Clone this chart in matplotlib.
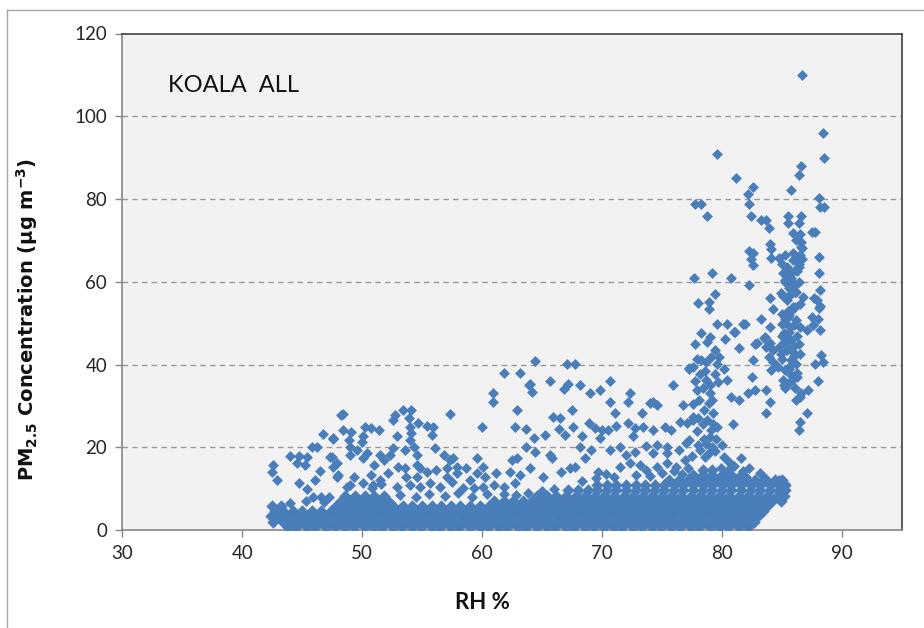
import matplotlib
matplotlib.use("Agg")
import matplotlib.pyplot as plt
from matplotlib.lines import Line2D

plt.rcParams["font.family"] = ["Lato", "DejaVu Sans"]

# ---- humid tail: high PM2.5 at RH > 76 % ----
rh_tail = [86.7, 88.4, 88.5, 79.6, 81.2, 82.6, 82.2, 82.3, 82.4, 86.6, 86.4, 85.75, 88.1, 88.2, 88.5,
           77.8, 78.3, 78.8, 83.3, 83.7, 83.9, 85.5, 86.6, 85.5, 86.4, 85.9, 87.5, 87.8, 84.0, 84.1,
           86.2, 86.6, 86.7, 82.3, 82.6, 82.4, 82.6, 84.1, 84.8, 85.0, 85.9, 86.3, 86.7, 86.4, 88.1,
           88.1, 77.7, 79.2, 80.8, 82.3, 85.1, 85.4, 85.8, 85.3, 85.9, 86.4, 88.2, 79.4, 78.0, 78.9,
           84.0, 84.9, 85.4, 86.8, 87.7, 88.2, 78.9, 79.6, 79.0, 80.4, 80.3, 81.0, 81.9, 81.4, 82.8,
           83.5, 84.0, 84.3, 83.3, 84.0, 83.6, 87.9, 88.1, 88.0, 88.2, 87.5, 87.6, 87.1, 88.3, 88.4,
           87.75, 88.0, 87.2, 87.1, 86.5, 86.4, 85.25, 85.5, 85.8, 86.1, 86.4, 86.5, 86.6, 86.2, 85.8,
           85.4, 85.9, 86.5, 85.0, 85.5, 86.2, 85.0, 85.7, 86.5, 85.25, 85.8, 84.8, 85.4, 85.9, 86.5,
           85.0, 85.8, 86.2, 85.25, 85.8, 85.1, 85.7, 85.25, 86.1, 86.6, 86.5, 86.2, 84.3, 83.9, 83.7,
           84.3, 84.1, 83.7, 84.0, 83.7, 82.9, 82.6, 82.5, 82.2, 82.75, 81.8, 81.1, 80.9, 81.4, 80.8,
           80.4, 80.2, 79.8, 79.6, 79.1, 78.7, 78.3, 77.9, 77.6, 77.3, 78.2, 78.7, 79.4, 79.7, 77.9,
           78.4, 79.0, 78.9, 79.3, 79.3, 79.1, 79.0, 78.7, 79.6, 77.75, 77.3, 77.6, 86.0, 85.6, 86.3,
           85.2, 86.0, 85.6, 86.3, 85.9, 85.5, 86.1, 85.3,
           85.2, 85.6, 86.0, 85.3, 85.7, 86.1, 85.1, 85.6, 86.0, 85.4, 85.9, 86.3, 85.0, 84.7, 85.2,
           85.6, 86.0, 86.4, 86.3, 84.9, 85.5, 86.2, 85.3, 86.5,
           77.6, 78.1, 78.5, 78.0, 78.4, 78.8, 77.9, 78.5, 78.0, 79.2, 78.9, 77.5, 77.0, 79.5, 79.0,
           78.6, 77.8, 79.2, 78.8, 78.3, 79.4]
pm_tail = [110.0, 96.0, 90.0, 90.8, 85.1, 82.9, 81.1, 78.9, 75.8, 88.0, 85.9, 82.1, 80.2, 78.1, 78.0,
           78.9, 78.7, 75.9, 75.0, 74.9, 72.9, 75.9, 76.0, 74.1, 74.1, 71.8, 72.1, 72.0, 69.2, 67.9,
           70.0, 69.6, 68.2, 67.4, 67.0, 65.4, 64.0, 65.8, 65.7, 64.4, 65.2, 66.0, 65.4, 63.6, 65.9,
           62.0, 61.0, 62.2, 61.0, 59.1, 62.0, 61.2, 62.0, 60.0, 59.7, 60.0, 58.0, 57.0, 54.9, 55.0,
           56.0, 57.2, 56.2, 56.2, 56.0, 54.1, 53.3, 49.9, 46.7, 49.9, 46.1, 47.9, 49.8, 44.0, 44.9,
           46.5, 45.1, 53.3, 51.1, 49.1, 46.7, 55.6, 53.6, 51.1, 48.3, 51.5, 49.5, 48.3, 42.3, 40.7,
           40.1, 36.1, 33.8, 28.2, 26.2, 24.2, 60.4, 62.0, 60.8, 62.8, 64.4, 66.4, 68.4, 65.2, 57.1,
           55.5, 53.9, 54.7, 52.3, 51.5, 50.7, 49.9, 49.1, 49.1, 46.7, 45.9, 44.3, 43.5, 43.0, 42.6,
           41.4, 41.0, 40.2, 38.6, 37.4, 36.2, 35.8, 34.2, 34.2, 33.0, 32.2, 31.4, 40.6, 41.8, 44.3,
           43.5, 38.6, 33.8, 31.0, 28.2, 45.1, 41.0, 37.0, 33.0, 33.8, 49.9, 47.9, 25.7, 31.4, 32.2,
           36.2, 39.0, 41.8, 40.2, 41.8, 40.6, 41.0, 41.4, 39.4, 39.0, 37.8, 36.2, 37.8, 35.8, 33.8,
           34.2, 33.0, 30.6, 28.2, 25.7, 24.1, 22.5, 20.9, 24.9, 44.9, 39.1, 27.3, 58.0, 52.0, 47.0,
           47.5, 44.5, 39.0, 38.0, 36.5, 53.0, 57.5, 50.0,
           45.5, 47.8, 49.5, 51.0, 52.8, 54.0, 56.5, 58.5, 59.0, 63.5, 67.0, 62.5, 47.0, 39.5, 35.0,
           39.5, 42.0, 45.0, 37.0, 42.5, 44.0, 57.5, 66.5, 71.5,
           30.5, 31.5, 29.0, 27.0, 25.5, 26.5, 24.0, 22.0, 20.5, 20.0, 18.5, 18.0, 21.0, 22.0, 35.0,
           38.5, 36.0, 31.5, 45.5, 47.5, 43.5]

# ---- scattered moderate values, RH 42-84 % ----
rh_mid = [46.7, 47.55, 48.2, 45.8, 46.2, 44.0, 44.7, 45.4, 44.6, 45.25, 47.3, 42.6, 42.5, 42.9, 46.5,
          44.7, 45.4, 46.1, 47.6, 47.9, 45.9, 46.6, 47.2,
          61.8, 63.2, 60.9, 60.9, 63.9, 62.9, 62.75, 48.4, 57.3, 60.0, 52.75, 53.4, 54.1, 52.6, 53.9,
          54.0, 54.1, 54.7, 48.4, 49.1, 48.9, 50.25, 50.7, 50.1, 50.0, 51.4, 47.6, 55.4, 55.9, 55.8,
          52.9, 54.0, 54.3, 49.0, 49.55, 52.6, 52.3, 53.6, 54.6, 56.1, 47.5, 47.9, 49.0, 50.1, 50.4,
          51.5, 51.8, 51.0, 56.8, 57.3, 57.6, 59.6, 60.1, 62.5, 62.9, 54.6, 54.8, 53.0, 53.6, 55.4,
          56.2, 57.05, 57.9, 58.7, 48.0, 49.3, 50.7, 51.5, 52.2, 53.7, 54.6, 57.05, 57.5, 57.9, 59.0,
          59.55, 60.25, 61.2, 62.3, 63.2, 48.7, 50.1, 50.9, 52.9, 54.0, 54.8, 55.7, 56.5, 58.4, 59.3,
          60.1, 61.0, 61.8, 62.75, 53.2, 54.5, 55.6, 56.9, 58.0, 59.2, 60.4,
          64.4, 67.06, 67.75, 65.7, 64.0, 64.15, 66.8, 67.2, 68.2, 69.0, 69.8, 70.7, 72.3, 72.2, 70.7,
          74.3, 74.6, 75.9, 76.8, 67.5, 65.9, 66.5, 71.1, 73.3, 63.7, 64.3, 65.25, 66.4, 66.9, 67.6,
          68.9, 69.4, 70.0, 70.5, 71.2, 72.2, 72.75, 72.6, 73.4, 74.3, 75.25, 75.8, 76.5, 77.06, 77.6,
          69.8, 68.3, 63.7, 64.4, 65.7, 65.8, 68.2, 69.1, 70.7, 71.5, 72.0, 72.75, 73.7, 74.6, 75.4,
          68.6, 64.0, 65.1, 66.6, 67.3, 67.75, 69.7, 71.5, 72.3, 73.2, 73.7, 74.6, 75.4, 76.2, 76.9,
          74.0, 77.3, 76.4, 75.4, 74.3, 78.2, 78.6, 80.2, 81.6, 83.2, 83.6, 84.8, 85.25, 80.5, 81.0,
          81.8, 82.3, 80.0, 80.6, 79.4, 79.9, 82.0,
          70.3, 71.0, 72.8, 74.0, 75.0, 76.0, 76.7, 77.2, 69.5, 68.3, 66.0, 65.0, 63.8, 62.8, 61.8,
          49.0, 50.8, 51.6, 44.0, 45.3, 46.8]
pm_mid = [23.1, 22.0, 27.8, 19.95, 19.95, 17.9, 17.9, 17.7, 16.1, 15.7, 17.7, 15.7, 14.1, 12.1, 14.3,
          11.3, 10.0, 12.1, 15.3, 12.9, 8.0, 8.0, 7.9,
          38.0, 38.0, 33.0, 31.0, 35.0, 29.0, 25.0, 28.0, 28.0, 25.0, 27.8, 29.0, 29.0, 26.6, 27.0,
          25.0, 23.4, 25.8, 24.2, 23.8, 21.7, 25.0, 24.6, 22.6, 21.3, 24.2, 22.2, 25.1, 24.8, 23.0,
          22.6, 21.7, 20.1, 20.1, 19.3, 19.7, 18.1, 19.3, 18.1, 19.7, 17.7, 16.1, 18.1, 17.3, 18.5,
          18.1, 16.9, 15.7, 18.1, 16.9, 17.3, 17.3, 15.3, 16.9, 17.3, 15.7, 14.9, 15.3, 14.9, 14.1,
          14.5, 14.9, 15.3, 14.9, 13.3, 12.9, 13.3, 12.1, 13.7, 12.9, 12.9, 12.9, 11.7, 13.7, 12.1,
          13.7, 12.9, 13.7, 14.1, 13.3, 10.5, 11.3, 10.9, 10.5, 10.9, 10.5, 11.3, 10.5, 10.1, 10.1,
          10.5, 10.9, 10.5, 11.3, 8.5, 8.0, 8.8, 8.2, 8.9, 7.9, 8.6,
          40.9, 40.1, 40.1, 36.1, 35.3, 33.4, 34.0, 35.4, 35.0, 33.0, 33.8, 36.1, 33.2, 31.0, 31.0,
          31.0, 30.2, 35.0, 30.2, 29.0, 27.2, 27.0, 28.2, 28.2, 24.3, 22.2, 23.0, 24.3, 23.0, 25.0,
          25.8, 24.6, 24.2, 24.2, 25.1, 25.9, 24.6, 22.6, 24.8, 24.2, 24.8, 24.2, 26.2, 25.8, 26.6,
          22.2, 22.6, 20.1, 18.9, 18.1, 17.3, 20.1, 19.3, 19.3, 20.1, 18.1, 18.9, 20.3, 20.5, 18.5,
          17.3, 15.1, 12.9, 14.1, 14.9, 15.3, 14.1, 15.3, 16.1, 15.7, 14.5, 15.3, 16.1, 15.3, 16.9,
          30.6, 21.7, 19.3, 20.1, 18.5, 19.3, 17.7, 17.7, 17.3, 13.7, 12.5, 12.1, 11.2, 14.5, 15.5,
          14.2, 15.0, 20.5, 16.5, 19.0, 15.0, 12.9,
          13.5, 12.9, 13.2, 13.0, 13.8, 14.2, 13.5, 15.0, 12.5, 11.8, 10.0, 9.5, 9.0, 8.5, 8.8,
          10.8, 10.2, 11.0, 6.6, 7.0, 6.8]

# ---- dense low-concentration band, one list of RH readings per PM2.5 level ----
band_pm = [0.8, 2.05, 3.3, 4.55, 5.8, 7.05, 8.3, 9.55, 10.8, 12.05, 13.3, 14.55]
band_rh = [
    [43.8, 44.5, 45.4, 46.1, 47.0, 47.7, 48.6, 49.3, 50.2, 51.0, 51.7, 52.6, 53.3, 54.2, 54.9, 55.8,
     56.5, 57.4, 58.1, 59.0, 59.8, 60.5, 61.4, 62.1, 63.0, 63.7, 64.6, 65.4, 66.1, 67.0, 67.7, 68.6,
     69.3, 70.2, 71.0, 71.7, 72.6, 73.3, 74.2, 74.9, 75.8, 76.5, 77.4, 78.1, 79.0, 79.8, 80.5, 81.4,
     82.2],
    [42.6, 43.4, 44.1, 45.0, 45.8, 46.6, 47.3, 48.2, 49.0, 49.8, 50.6, 51.3, 52.2, 52.9, 53.8, 54.6,
     55.3, 56.2, 57.0, 57.7, 58.6, 59.4, 60.2, 60.9, 61.8, 62.5, 63.4, 64.2, 65.0, 65.7, 66.6, 67.4,
     68.1, 69.0, 69.8, 70.5, 71.4, 72.2, 72.9, 73.8, 74.6, 75.4, 76.1, 77.0, 77.8, 78.5, 79.4, 80.2,
     80.9, 81.8, 82.7],
    [42.4, 43.0, 43.8, 44.6, 45.4, 46.2, 47.0, 47.8, 48.6, 49.4, 50.2, 51.0, 51.8, 52.6, 53.4, 54.2,
     55.0, 55.8, 56.6, 57.4, 58.2, 59.0, 59.8, 60.6, 61.4, 62.2, 63.0, 63.8, 64.6, 65.4, 66.2, 67.0,
     67.8, 68.6, 69.4, 70.2, 71.0, 71.8, 72.6, 73.4, 74.2, 75.0, 75.8, 76.6, 77.4, 78.2, 79.0, 79.8,
     80.6, 81.4, 82.2, 83.0],
    [42.7, 43.4, 44.2, 45.0, 45.8, 46.6, 47.4, 48.2, 49.0, 49.8, 50.6, 51.4, 52.2, 53.0, 53.8, 54.6,
     55.4, 56.2, 57.0, 57.8, 58.6, 59.4, 60.2, 61.0, 61.8, 62.6, 63.4, 64.2, 65.0, 65.8, 66.6, 67.4,
     68.2, 69.0, 69.8, 70.6, 71.4, 72.2, 73.0, 73.8, 74.6, 75.4, 76.2, 77.0, 77.8, 78.6, 79.4, 80.2,
     81.0, 81.8, 82.6, 83.4],
    [42.5, 43.2, 47.8, 48.6, 49.4, 50.2, 51.0, 51.8, 52.6, 53.4, 54.2, 55.0, 55.8, 56.6, 57.4, 58.2,
     59.0, 59.8, 60.6, 61.4, 62.2, 63.0, 63.8, 64.6, 65.4, 66.2, 67.0, 67.8, 68.6, 69.4, 70.2, 71.0,
     71.8, 72.6, 73.4, 74.2, 75.0, 75.8, 76.6, 77.4, 78.2, 79.0, 79.8, 80.6, 81.4, 82.2, 83.0, 83.8],
    [48.2, 49.0, 49.8, 50.6, 51.4, 52.2, 61.0, 61.8, 62.6, 63.4, 64.2, 65.0, 65.8, 66.6, 67.4, 68.2,
     69.0, 69.8, 70.6, 71.4, 72.2, 73.0, 73.8, 74.6, 75.4, 76.2, 77.0, 77.8, 78.6, 79.4, 80.2, 81.0,
     81.8, 82.6, 83.4, 84.2, 84.9],
    [48.6, 49.4, 50.2, 51.0, 51.8, 64.6, 65.4, 66.2, 67.0, 67.8, 68.6, 69.4, 70.2, 71.0, 71.8, 72.6,
     73.4, 74.2, 75.0, 75.8, 76.6, 77.4, 78.2, 79.0, 79.8, 80.6, 81.4, 82.2, 83.0, 83.8, 84.6, 85.2],
    [67.2, 68.0, 68.8, 69.6, 70.4, 71.2, 72.0, 72.8, 73.6, 74.4, 75.2, 76.0, 76.8, 77.6, 78.4, 79.2,
     80.0, 80.8, 81.6, 82.4, 83.2, 84.0, 84.8, 85.3],
    [69.6, 70.4, 71.2, 72.0, 72.8, 73.6, 74.4, 75.2, 76.0, 76.8, 77.6, 78.4, 79.2, 80.0, 80.8, 81.6,
     82.4, 83.2, 84.0, 84.8, 85.3],
    [75.6, 76.4, 77.2, 78.0, 78.8, 79.6, 80.4, 81.2, 82.0, 82.8, 83.6, 84.4, 85.0],
    [77.6, 78.4, 79.2, 80.0, 80.8, 81.6],
    [78.4, 79.2],
]

# axis ticks
x_ticks = [30, 40, 50, 60, 70, 80, 90]
y_ticks = [0, 20, 40, 60, 80, 100, 120]

W, H = 924, 628
fig = plt.figure(figsize=(W / 100, H / 100), dpi=100)
ax = fig.add_axes([122.3 / W, 98 / H, 779.4 / W, 496.5 / H])
ax.set_facecolor("#f2f2f2")

blue = "#4a7ebb"
# packed band: slightly fuller markers so overlapping diamonds merge into one mass
for level, row in zip(band_pm, band_rh):
    ax.scatter(row, [level] * len(row), marker="D", s=40, color=blue, linewidths=0, zorder=3)
mk = dict(marker="D", s=31, color=blue, linewidths=0, zorder=3)
ax.scatter(rh_mid, pm_mid, **mk)
ax.scatter(rh_tail, pm_tail, **mk)

ax.set_xlim(30, 95)
ax.set_ylim(0, 120)
ax.set_xticks(x_ticks)
ax.set_yticks(y_ticks)
ax.tick_params(axis="both", direction="out", length=5, width=1, color="#868686",
               labelsize=13.5, labelcolor="#262626", pad=6)
for y in y_ticks[1:-1]:
    ax.axhline(y, color="#9a9a9a", lw=1, ls=(0, (4, 3)), zorder=1)

for side in ("top", "right"):
    ax.spines[side].set_color("#404040")
    ax.spines[side].set_linewidth(1.2)
for side in ("left", "bottom"):
    ax.spines[side].set_color("#868686")
    ax.spines[side].set_linewidth(1.2)

ax.text(33.8, 107.5, "KOALA  ALL", fontsize=17, va="center", ha="left", color="#111111")

ax.set_ylabel(r"PM$_{\mathbf{2.5}}$ Concentration (μg m$^{\mathbf{-3}}$)",
              fontsize=14, fontweight="bold", color="#111111", family="DejaVu Sans")
ax.yaxis.set_label_coords(-0.106, 0.425)
ax.set_xlabel("RH %", fontsize=16, fontweight="bold", color="#111111")
ax.xaxis.set_label_coords(0.4615, -0.125)

# outer chart frame
fig.add_artist(Line2D([7 / W, 7 / W], [0, 1 - 10 / H], color="#a6a6a6", lw=1))
fig.add_artist(Line2D([7 / W, 1], [1 - 10 / H, 1 - 10 / H], color="#a6a6a6", lw=1))

fig.savefig("out.png", dpi=100)
